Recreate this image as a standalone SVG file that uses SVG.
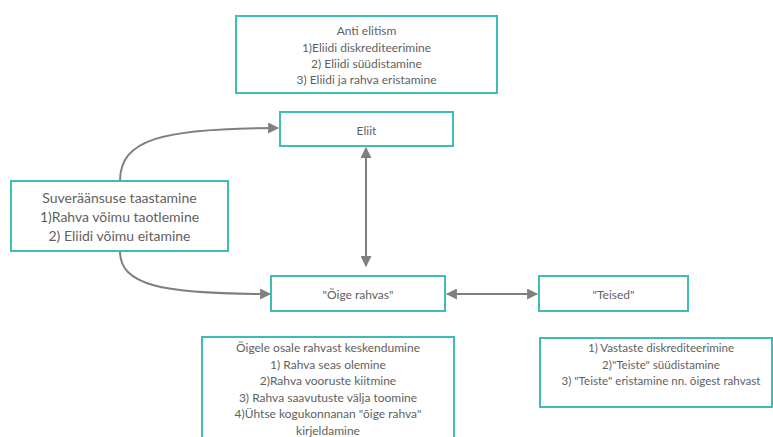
<svg xmlns="http://www.w3.org/2000/svg" width="773" height="437" viewBox="0 0 773 437">
<style>
.box{fill:#fff;stroke:#3dbdb6;stroke-width:2}
.t{font-family:Lato,"Liberation Sans",sans-serif;font-size:12px;fill:#5f5f5f;text-anchor:middle}
.big{font-size:14px}
.sm{font-size:11.6px}
.c{fill:none;stroke:#7f7f7f;stroke-width:2}
</style>
<defs>
<marker id="ah" viewBox="0 0 10 10" refX="9" refY="5" markerWidth="5.5" markerHeight="5.5" orient="auto-start-reverse" markerUnits="strokeWidth">
<path d="M0,0 L10,5 L0,10 Z" fill="#7f7f7f"/>
</marker>
</defs>
<rect width="773" height="437" fill="#fff"/>
<g id="connectors">
<path class="c" d="M120,181 C120,140 160,128 278,128" marker-end="url(#ah)"/>
<path class="c" d="M120,251 C120,285 160,294 270,294" marker-end="url(#ah)"/>
<path class="c" d="M366,148 L366,266" marker-start="url(#ah)" marker-end="url(#ah)"/>
<path class="c" d="M447,294 L537,294" marker-start="url(#ah)" marker-end="url(#ah)"/>
</g>
<g id="anti-elitism">
<rect class="box" x="236" y="16" width="261" height="77"/>
<text class="t" x="366.5" y="35">Anti elitism</text>
<text class="t" x="366.5" y="51.5">1)Eliidi diskrediteerimine</text>
<text class="t" x="366.5" y="67.5">2) Eliidi süüdistamine</text>
<text class="t" x="366.5" y="84">3) Eliidi ja rahva eristamine</text>
</g>
<g id="eliit">
<rect class="box" x="280" y="112" width="173" height="34"/>
<text class="t" x="366.5" y="134.5">Eliit</text>
</g>
<g id="suveraansus">
<rect class="box" x="11" y="181" width="217" height="70"/>
<text class="t big" x="119.5" y="203">Suveräänsuse taastamine</text>
<text class="t big" x="119.5" y="222">1)Rahva võimu taotlemine</text>
<text class="t big" x="119.5" y="241">2) Eliidi võimu eitamine</text>
</g>
<g id="oige-rahvas">
<rect class="box" x="271" y="276" width="174" height="35"/>
<text class="t" x="358" y="298.5">"Õige rahvas"</text>
</g>
<g id="teised">
<rect class="box" x="539" y="276" width="149" height="35"/>
<text class="t" x="613.5" y="298.5">"Teised"</text>
</g>
<g id="oige-kirjeldus">
<rect class="box" x="202" y="337" width="252" height="110"/>
<text class="t" x="328" y="352">Õigele osale rahvast keskendumine</text>
<text class="t" x="328" y="368.5">1) Rahva seas olemine</text>
<text class="t" x="328" y="385">2)Rahva vooruste kiitmine</text>
<text class="t" x="328" y="401.5">3) Rahva saavutuste välja toomine</text>
<text class="t" x="328" y="418">4)Ühtse kogukonnanan "õige rahva"</text>
<text class="t" x="328" y="434.5">kirjeldamine</text>
</g>
<g id="teised-kirjeldus">
<rect class="box" x="540" y="338" width="232" height="69"/>
<text class="t sm" x="661" y="352">1) Vastaste diskrediteerimine</text>
<text class="t sm" x="661" y="368.5">2)"Teiste" süüdistamine</text>
<text class="t sm" x="661" y="384.5">3) "Teiste" eristamine nn. õigest rahvast</text>
</g>
</svg>
